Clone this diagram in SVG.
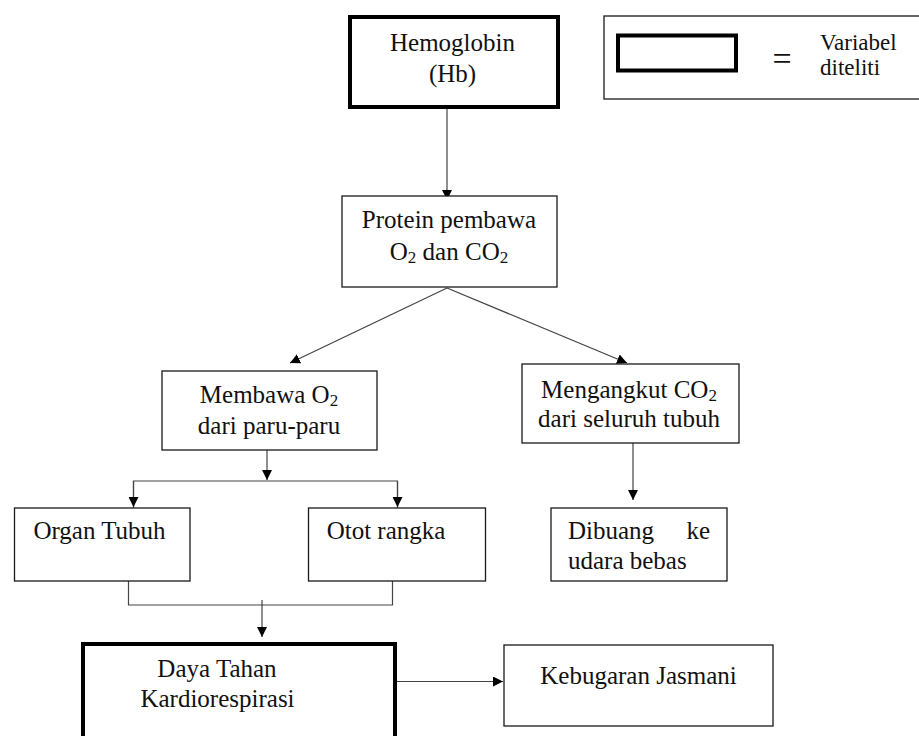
<svg xmlns="http://www.w3.org/2000/svg" width="919" height="736" viewBox="0 0 919 736">
<style>
.box{fill:#fff;stroke:#1a1a1a;stroke-width:1.3}
.thick{fill:#fff;stroke:#000;stroke-width:4}
.t{font-family:"Liberation Serif","Times New Roman",serif;font-size:25px;fill:#111}
.tc{text-anchor:middle}
.sub{font-size:17px}
.ln{fill:none;stroke:#444;stroke-width:1.2}
</style>
<defs>
<marker id="ah" viewBox="0 0 10 10" refX="10" refY="5" markerWidth="10" markerHeight="10" markerUnits="userSpaceOnUse" orient="auto">
<path d="M0,0 L10,5 L0,10 Z" fill="#000"/>
</marker>
</defs>
<rect width="919" height="736" fill="#fff"/>
<g id="connectors">
<line class="ln" x1="447" y1="109" x2="447" y2="200" marker-end="url(#ah)"/>
<line class="ln" x1="447" y1="288" x2="290" y2="363" marker-end="url(#ah)"/>
<line class="ln" x1="447" y1="288" x2="627" y2="363" marker-end="url(#ah)"/>
<line class="ln" x1="267" y1="450" x2="267" y2="480" marker-end="url(#ah)"/>
<polyline class="ln" points="133.5,508 133.5,481 397.5,481 397.5,508"/>
<line class="ln" x1="133.5" y1="481" x2="133.5" y2="507" marker-end="url(#ah)"/>
<line class="ln" x1="397.5" y1="481" x2="397.5" y2="507" marker-end="url(#ah)"/>
<line class="ln" x1="633" y1="430" x2="633" y2="500" marker-end="url(#ah)"/>
<polyline class="ln" points="128.5,581 128.5,605 392.5,605 392.5,581"/>
<line class="ln" x1="262" y1="600" x2="262" y2="637" marker-end="url(#ah)"/>
<line class="ln" x1="397" y1="681.5" x2="503" y2="681.5" marker-end="url(#ah)"/>
</g>
<g id="legend">
<rect class="box" x="604" y="16" width="330" height="83"/>
<rect class="thick" x="618" y="35.5" width="118" height="35"/>
<text class="t tc" x="782" y="70" style="font-size:34px">=</text>
<text class="t" x="820" y="50" style="font-size:23px">Variabel</text>
<text class="t" x="820" y="75" style="font-size:23px">diteliti</text>
</g>
<g id="hemoglobin">
<rect class="thick" x="350" y="17" width="208" height="90"/>
<text class="t tc" x="452.5" y="50.5">Hemoglobin</text>
<text class="t tc" x="452.5" y="82">(Hb)</text>
</g>
<g id="protein">
<rect class="box" x="342" y="196" width="215" height="91"/>
<text class="t tc" x="449" y="227.5">Protein pembawa</text>
<text class="t tc" x="449" y="260">O<tspan class="sub" dy="3">2</tspan><tspan dy="-3"> dan CO</tspan><tspan class="sub" dy="3">2</tspan></text>
</g>
<g id="membawa">
<rect class="box" x="162" y="371" width="215" height="79"/>
<text class="t tc" x="269" y="403">Membawa O<tspan class="sub" dy="3">2</tspan></text>
<text class="t tc" x="269" y="434">dari paru-paru</text>
</g>
<g id="mengangkut">
<rect class="box" x="522" y="364" width="217" height="79"/>
<text class="t tc" x="629" y="398">Mengangkut CO<tspan class="sub" dy="3">2</tspan></text>
<text class="t tc" x="629" y="427">dari seluruh tubuh</text>
</g>
<g id="organ">
<rect class="box" x="14.5" y="508" width="175.5" height="73"/>
<text class="t tc" x="99.5" y="539">Organ Tubuh</text>
</g>
<g id="otot">
<rect class="box" x="308.5" y="508" width="177" height="73"/>
<text class="t tc" x="386" y="539">Otot rangka</text>
</g>
<g id="dibuang">
<rect class="box" x="551" y="508" width="176" height="73"/>
<text class="t" x="568" y="539">Dibuang</text>
<text class="t" x="710" y="539" text-anchor="end">ke</text>
<text class="t" x="568" y="568.5">udara bebas</text>
</g>
<g id="daya">
<rect class="thick" x="83" y="644" width="312" height="110"/>
<text class="t tc" x="217" y="676.5">Daya Tahan</text>
<text class="t tc" x="217.5" y="706.5">Kardiorespirasi</text>
</g>
<g id="kebugaran">
<rect class="box" x="504" y="645" width="269" height="81"/>
<text class="t tc" x="638.5" y="684">Kebugaran Jasmani</text>
</g>
</svg>
